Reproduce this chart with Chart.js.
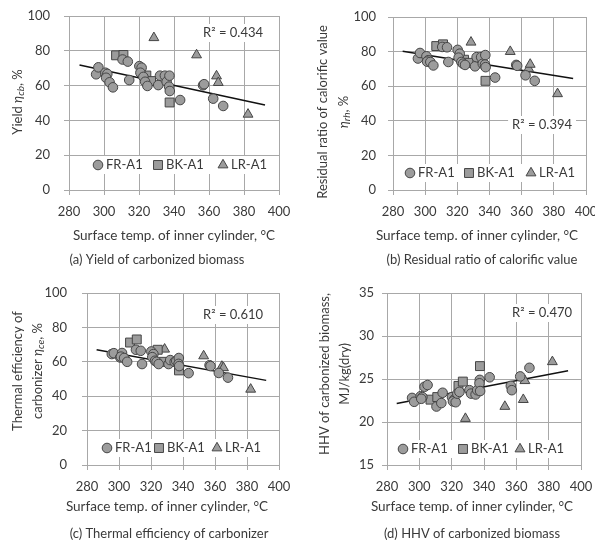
<!DOCTYPE html>
<html>
<head>
<meta charset="utf-8">
<script src="https://cdn.jsdelivr.net/npm/chart.js@4.4.1/dist/chart.umd.min.js"></script>
<style>
  html, body { margin: 0; padding: 0; background: #fff; }
  #wrap { position: relative; width: 595px; height: 543px; overflow: hidden; }
  canvas { position: absolute; }
</style>
</head>
<body>
<div id="wrap">
  <canvas id="cA" width="297" height="270" style="left:0;top:0"></canvas>
  <canvas id="cB" width="320" height="270" style="left:297px;top:0"></canvas>
  <canvas id="cC" width="297" height="273" style="left:0;top:270px"></canvas>
  <canvas id="cD" width="298" height="273" style="left:297px;top:270px"></canvas>
</div>
<script>
// surface temperature of inner cylinder, degC
const frTemp = [295.5, 296.8, 300.8, 301.9, 301.2, 303.2, 305.1, 310.6, 313.6, 314.4, 320.2, 321.5, 320.8, 322.5,
  323.5, 324.8, 331.0, 332.0, 334.8, 335.8, 337.4, 337.2, 337.6, 343.5, 356.6, 357.2, 362.4, 368.1];
const bkTemp = [306.9, 311.1, 324.2, 326.9, 337.5];
const lrTemp = [328.5, 352.9, 364.3, 365.3, 382.3];
const trendTemp = [286, 392];

// (a) yield, %
const frYield = [66.5, 70.5, 67.4, 66.7, 64.5, 61.9, 59.0, 75.0, 73.8, 63.2, 71.2, 70.3, 67.4, 65.0,
  62.2, 59.8, 60.3, 65.7, 65.7, 62.2, 65.7, 59.4, 56.9, 51.7, 60.2, 60.8, 52.5, 48.3];
const bkYield = [77.4, 77.6, 65.8, 62.6, 50.3];
const lrYield = [87.5, 77.6, 65.5, 61.7, 43.5];
const trendYield = [71.8, 48.8];

// (b) residual ratio of calorific value, %
const frResidual = [76.0, 79.2, 77.3, 75.0, 74.2, 74.0, 72.0, 82.7, 82.5, 74.0, 81.0, 78.8, 76.5, 74.0,
  73.0, 72.3, 71.5, 76.8, 76.8, 73.0, 78.0, 72.5, 71.0, 65.0, 72.3, 71.8, 66.3, 63.1];
const bkResidual = [83.2, 84.2, 75.3, 73.5, 63.1];
const lrResidual = [85.4, 80.0, 70.2, 72.6, 55.6];
const trendResidual = [80.2, 64.5];

// (c) thermal efficiency of carbonizer, %
const frThermal = [64.5, 65.0, 62.5, 65.1, 63.0, 62.2, 60.0, 67.0, 66.4, 58.7, 66.0, 64.5, 62.7, 60.6,
  60.0, 58.7, 58.7, 61.0, 60.0, 60.5, 62.2, 58.8, 57.5, 53.4, 58.0, 57.5, 53.5, 50.8];
const bkThermal = [71.2, 73.0, 67.0, 60.0, 55.0];
const lrThermal = [67.3, 63.4, 57.3, 56.5, 44.0];
const trendThermal = [67.0, 49.2];

// (d) HHV of carbonized biomass, MJ/kg(dry)
const frHHV = [22.8, 22.35, 23.0, 22.9, 22.7, 24.1, 24.3, 21.8, 22.2, 23.4, 22.9, 22.6, 22.4, 22.3,
  23.3, 23.5, 23.7, 23.3, 23.2, 23.7, 24.9, 24.5, 23.6, 25.2, 24.2, 23.7, 25.3, 26.3];
const bkHHV = [22.6, 22.9, 24.2, 24.7, 26.5];
const lrHHV = [20.4, 21.8, 22.6, 24.8, 27.0];
const trendHHV = [22.15, 25.95];

const seriesNames = ['FR-A1', 'BK-A1', 'LR-A1'];
const r2Values = ['0.434', '0.394', '0.610', '0.470'];
const captions = ['(a) Yield of carbonized biomass', '(b) Residual ratio of calorific value',
  '(c) Thermal efficiency of carbonizer', '(d) HHV of carbonized biomass'];
const xTitle = 'Surface temp. of inner cylinder, \u00B0C';

const FONT = 'Lato';
const TEXT = '#3a3a3a';
const GRID = '#a8a8a8';
const FILL = '#9c9c9c';
const EDGE = '#454545';

function pts(xs, ys) {
  return xs.map((x, i) => ({ x: x, y: ys[i] }));
}

// text with italic / subscript pieces, centred on (x, y)
function drawRich(ctx, segs, x, y, rot, size) {
  ctx.save();
  ctx.translate(x, y);
  ctx.rotate(rot);
  ctx.textBaseline = 'middle';
  ctx.textAlign = 'left';
  const fontOf = s => (s[1] ? 'italic ' : '') + (s[1] === 's' ? size - 3 : size) + 'px ' + FONT;
  let w = 0;
  segs.forEach(s => { ctx.font = fontOf(s); w += ctx.measureText(s[0]).width; });
  let cx = -w / 2;
  segs.forEach(s => {
    ctx.font = fontOf(s);
    ctx.fillText(s[0], cx, s[1] === 's' ? 3 : 0);
    cx += ctx.measureText(s[0]).width;
  });
  ctx.restore();
}

function drawMarker(ctx, ds, x, y) {
  const r = ds.pointRadius;
  ctx.beginPath();
  if (ds.pointStyle === 'rect') {
    const h = r * Math.SQRT1_2;
    ctx.rect(x - h, y - h, 2 * h, 2 * h);
  } else if (ds.pointStyle === 'triangle') {
    ctx.moveTo(x, y - r);
    ctx.lineTo(x + r * 0.866, y + r * 0.5);
    ctx.lineTo(x - r * 0.866, y + r * 0.5);
    ctx.closePath();
  } else {
    ctx.arc(x, y, r, 0, Math.PI * 2);
  }
  ctx.fillStyle = ds.backgroundColor;
  ctx.strokeStyle = ds.borderColor;
  ctx.lineWidth = ds.borderWidth;
  ctx.fill();
  ctx.stroke();
}

const panelText = {
  id: 'panelText',
  afterDraw(chart, args, o) {
    const ctx = chart.ctx;
    ctx.save();
    ctx.fillStyle = TEXT;
    o.yTitle.forEach((line, i) => drawRich(ctx, line, o.yTitleX[i], o.yTitleY, -Math.PI / 2, 13));
    drawRich(ctx, [[xTitle]], o.xTitleX, o.xTitleY, 0, 13.5);
    drawRich(ctx, [[o.caption]], o.capX, o.capY, 0, 13);

    // R2 label
    ctx.font = '13px ' + FONT;
    ctx.textBaseline = 'middle';
    ctx.textAlign = 'right';
    const r2 = 'R\u00B2 = ' + o.r2;
    const rw = ctx.measureText(r2).width;
    ctx.fillStyle = '#fff';
    ctx.fillRect(o.r2X - rw - 4, o.r2Y - 9, rw + 8, 18);
    ctx.fillStyle = TEXT;
    ctx.fillText(r2, o.r2X, o.r2Y);

    // legend inside the plot
    ctx.textAlign = 'left';
    const lastW = ctx.measureText(seriesNames[2]).width;
    ctx.fillStyle = '#fff';
    ctx.fillRect(o.legX[0] - 9, o.legY - 9, o.legX[2] + 8 + lastW + 6 - (o.legX[0] - 9), 18);
    seriesNames.forEach((name, i) => {
      drawMarker(ctx, chart.data.datasets[i], o.legX[i], o.legY);
      ctx.fillStyle = TEXT;
      ctx.fillText(name, o.legX[i] + 8, o.legY);
    });
    ctx.restore();
  }
};

const panels = [
  { id: 'cA', yMin: 0, yMax: 100, yStep: 20, fr: frYield, bk: bkYield, lr: lrYield, trend: trendYield,
    left: 69, right: 18, top: 16, xH: 80, yPad: 14,
    text: { yTitle: [[['Yield '], ['\u03B7', 'i'], ['cb', 's'], [', %']]], yTitleX: [18], yTitleY: 102,
      xTitleX: 174, xTitleY: 236, caption: captions[0], capX: 157, capY: 260,
      r2: r2Values[0], r2X: 263, r2Y: 33, legY: 165, legX: [98, 158, 223] } },
  { id: 'cB', yMin: 0, yMax: 100, yStep: 20, fr: frResidual, bk: bkResidual, lr: lrResidual, trend: trendResidual,
    left: 96, right: 31, top: 17, xH: 80, yPad: 12,
    text: { yTitle: [[['Residual ratio of calorific value']], [['\u03B7', 'i'], ['rh', 's'], [', %']]],
      yTitleX: [26, 47], yTitleY: 112,
      xTitleX: 180, xTitleY: 236, caption: captions[1], capX: 185, capY: 260,
      r2: r2Values[1], r2X: 275, r2Y: 125, legY: 173, legX: [113, 172, 234] } },
  { id: 'cC', yMin: 0, yMax: 100, yStep: 20, fr: frThermal, bk: bkThermal, lr: lrThermal, trend: trendThermal,
    left: 87, right: 18, top: 23, xH: 78, yPad: 15,
    text: { yTitle: [[['Thermal efficiency of']], [['carbonizer '], ['\u03B7', 'i'], ['ce', 's'], [', %']]],
      yTitleX: [18, 38], yTitleY: 101,
      xTitleX: 167, xTitleY: 237, caption: captions[2], capX: 169, capY: 264,
      r2: r2Values[2], r2X: 263, r2Y: 45, legY: 178, legX: [107, 159, 217] } },
  { id: 'cD', yMin: 15, yMax: 35, yStep: 5, fr: frHHV, bk: bkHHV, lr: lrHHV, trend: trendHHV,
    left: 90, right: 14, top: 23, xH: 78, yPad: 8,
    text: { yTitle: [[['HHV of carbonized biomass,']], [['MJ/kg(dry)']]],
      yTitleX: [28, 48], yTitleY: 104,
      xTitleX: 175, xTitleY: 237, caption: captions[3], capX: 175, capY: 264,
      r2: r2Values[3], r2X: 275, r2Y: 43, legY: 179, legX: [106, 166, 223] } }
];

function marker(style, r) {
  return { type: 'scatter', pointStyle: style, pointRadius: r, pointHoverRadius: r,
    backgroundColor: FILL, borderColor: EDGE, borderWidth: 1 };
}

panels.forEach(p => {
  new Chart(document.getElementById(p.id), {
    type: 'scatter',
    data: {
      datasets: [
        Object.assign({ label: seriesNames[0], data: pts(frTemp, p.fr) }, marker('circle', 4.8)),
        Object.assign({ label: seriesNames[1], data: pts(bkTemp, p.bk) }, marker('rect', 6.3)),
        Object.assign({ label: seriesNames[2], data: pts(lrTemp, p.lr) }, marker('triangle', 5.7)),
        { type: 'line', label: 'trend', data: pts(trendTemp, p.trend), showLine: true,
          borderColor: '#111', borderWidth: 1.5, pointRadius: 0, fill: false }
      ]
    },
    options: {
      responsive: false,
      animation: false,
      layout: { padding: { left: 0, top: p.top, right: p.right, bottom: 0 } },
      plugins: { legend: { display: false }, tooltip: { enabled: false }, panelText: p.text },
      scales: {
        x: {
          type: 'linear', min: 280, max: 400,
          ticks: { stepSize: 20, padding: 9, color: TEXT, font: { family: FONT, size: 13 }, maxRotation: 0 },
          grid: { color: GRID, tickLength: 5 },
          border: { color: GRID },
          afterFit: s => { s.height = p.xH; s.paddingLeft = 0; s.paddingRight = 0; }
        },
        y: {
          min: p.yMin, max: p.yMax,
          ticks: { stepSize: p.yStep, padding: p.yPad, color: TEXT, font: { family: FONT, size: 13 } },
          grid: { color: GRID, tickLength: 5 },
          border: { color: GRID },
          afterFit: s => { s.width = p.left; s.paddingTop = 0; s.paddingBottom = 0; }
        }
      }
    },
    plugins: [panelText]
  });
});
</script>
</body>
</html>
